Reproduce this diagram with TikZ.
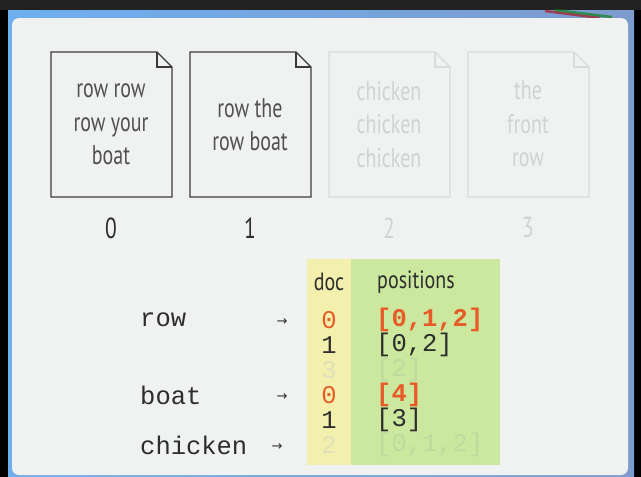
\documentclass[tikz,border=0pt]{standalone}
\usepackage{fontspec}
\newfontfamily\docfont[FakeStretch=0.74]{PT Sans}
\newfontfamily\headfont[FakeStretch=0.8]{PT Sans}
\newfontfamily\monofont{Liberation Mono}
\newfontfamily\arrfont{DejaVu Sans}
\definecolor{topdark}{RGB}{34,34,34}
\definecolor{blueL}{RGB}{110,175,240}
\definecolor{blueR}{RGB}{125,155,205}
\definecolor{slidebg}{RGB}{239,242,240}
\definecolor{docline}{RGB}{58,58,58}
\definecolor{doctext}{RGB}{80,80,80}
\definecolor{fadeline}{RGB}{216,219,216}
\definecolor{fadetext}{RGB}{208,211,208}
\definecolor{yellowcol}{RGB}{242,240,172}
\definecolor{greencol}{RGB}{204,232,158}
\definecolor{orangecol}{RGB}{232,90,40}
\definecolor{darktext}{RGB}{45,45,45}
\definecolor{fadeY}{RGB}{224,224,186}
\definecolor{fadeG}{RGB}{190,218,160}
\tikzset{
  docbox/.style={draw=docline, line width=1.3pt, fill=slidebg, line join=miter},
  fadebox/.style={draw=fadeline, line width=1.1pt, fill=slidebg},
  doctxt/.style={font=\docfont\fontsize{27}{33.5}\selectfont, text=doctext, align=center, inner sep=0pt},
  fadetxt/.style={doctxt, text=fadetext},
  numtxt/.style={font=\docfont\fontsize{29}{30}\selectfont, text=darktext, inner sep=0pt},
  head/.style={font=\headfont\fontsize{25}{26}\selectfont, text=darktext, inner sep=0pt},
  term/.style={font=\monofont\fontsize{25.5}{25}\selectfont, text=darktext, inner sep=0pt, anchor=west},
  arr/.style={font=\arrfont\fontsize{13}{13}\selectfont, text=darktext, inner sep=0pt},
  mono/.style={font=\monofont\fontsize{25.5}{25}\selectfont, text=darktext, inner sep=0pt},
  hot/.style={font=\monofont\bfseries\fontsize{25.5}{25}\selectfont, text=orangecol, inner sep=0pt},
}
\begin{document}
\begin{tikzpicture}[x=1pt,y=-1pt]
\useasboundingbox (0,0) rectangle (641,477);
\fill[black] (0,0) rectangle (641,477);
\fill[topdark] (0,0) rectangle (641,10);
\shade[left color=blueL, right color=blueR] (8,10) rectangle (634,477);
\draw[red!70!black, line width=2.5pt, opacity=0.6] (545,11) -- (600,18);
\draw[green!50!black, line width=2.5pt, opacity=0.6] (555,10) -- (612,17);
\fill[slidebg, rounded corners=7] (12,18) rectangle (628,475);
% documents
\foreach \x/\sty in {51/docbox,190/docbox,329/fadebox,468/fadebox}{
  \draw[\sty] (\x,52) -- (\x+106,52) -- (\x+121,67) -- (\x+121,197) -- (\x,197) -- cycle;
  \draw[\sty, fill=none] (\x+106,52) -- (\x+106,67) -- (\x+121,67);
}
\node[doctxt] (d0) at (111,124.5) {row row\\row your\\boat};
\node[doctxt] (d1) at (250,124.5) {row the\\row boat};
\node[fadetxt] (d2) at (389,124.5) {chicken\\chicken\\chicken};
\node[fadetxt] (d3) at (528,124) {the\\front\\row};
\node[numtxt] (n0) at (111,228) {0};
\node[numtxt] (n1) at (250,228) {1};
\node[numtxt, text=fadetext] (n2) at (389,228) {2};
\node[numtxt, text=fadetext] (n3) at (528,228) {3};
% index table
\fill[yellowcol] (307,259) rectangle (351,465);
\fill[greencol] (351,259) rectangle (500,465);
\node[head] (hdoc) at (329,282) {doc};
\node[head] (hpos) at (416,282) {positions};
% terms
\node[term] (trow) at (140,320) {row};
\node[term] (tboat) at (140,395) {boat};
\node[term] (tchicken) at (140,445) {chicken};
\node[arr] (arow) at (282,322) {→};
\node[arr] (aboat) at (282,397) {→};
\node[arr] (achicken) at (277,447) {→};
% doc ids
\node[hot, font=\monofont\fontsize{25.5}{25}\selectfont] (r0) at (329,320) {0};
\node[mono] (r1) at (329,345) {1};
\node[mono, text=fadeY] (r2) at (329,370) {3};
\node[hot, font=\monofont\fontsize{25.5}{25}\selectfont] (r3) at (329,395) {0};
\node[mono] (r4) at (329,420) {1};
\node[mono, text=fadeY] (r5) at (329,445) {2};
% positions
\node[hot, anchor=west] (p0) at (376,320) {[0,1,2]};
\node[mono, anchor=west] (p1) at (376,345) {[0,2]};
\node[mono, anchor=west, text=fadeG] (p2) at (376,370) {[2]};
\node[hot, anchor=west] (p3) at (376,395) {[4]};
\node[mono, anchor=west] (p4) at (376,420) {[3]};
\node[mono, anchor=west, text=fadeG] (p5) at (376,445) {[0,1,2]};
\end{tikzpicture}
\end{document}
